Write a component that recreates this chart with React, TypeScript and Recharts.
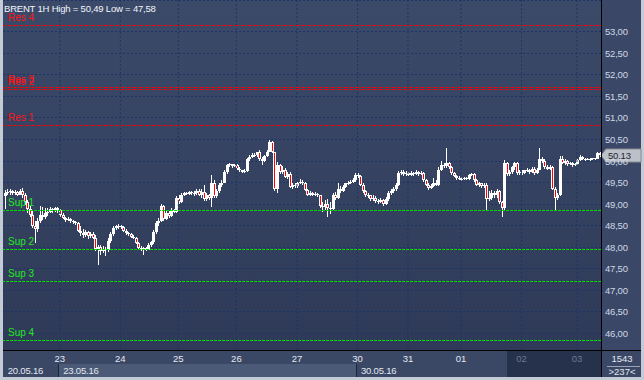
import React from 'react';
import { ComposedChart, Bar, XAxis, YAxis, CartesianGrid, ReferenceLine } from 'recharts';

// open, high, low, close
type Candle = [number, number, number, number];

const FONT = '"Liberation Sans", Arial, Helvetica, sans-serif';

const day2005: Candle[] = [
  [49.18, 49.32, 48.88, 49.25], [49.25, 49.34, 49.2, 49.28], [49.28, 49.35, 49.22, 49.3],
  [49.3, 49.33, 49.22, 49.26], [49.26, 49.32, 49.2, 49.27], [49.27, 49.3, 49.18, 49.22],
  [49.22, 49.36, 49.2, 49.3], [49.3, 49.38, 49.15, 49.22], [49.22, 49.26, 48.98, 49.05],
  [49.05, 49.1, 48.8, 48.88], [48.88, 48.95, 48.7, 48.75], [48.75, 48.85, 48.45, 48.5],
  [48.5, 48.6, 48.1, 48.42], [48.42, 48.68, 48.35, 48.6], [48.6, 48.95, 48.55, 48.75],
  [48.75, 48.92, 48.62, 48.7], [48.7, 48.9, 48.65, 48.78], [48.78, 48.9, 48.72, 48.82],
  [48.82, 48.92, 48.78, 48.88], [48.88, 48.9, 48.8, 48.86], [48.86, 48.94, 48.82, 48.9],
  [48.9, 48.93, 48.8, 48.85],
];

const day2305: Candle[] = [
  [48.85, 48.88, 48.7, 48.74], [48.74, 48.78, 48.64, 48.68], [48.68, 48.7, 48.58, 48.62],
  [48.62, 48.7, 48.6, 48.66], [48.66, 48.68, 48.56, 48.6], [48.6, 48.62, 48.54, 48.58],
  [48.58, 48.6, 48.52, 48.55], [48.55, 48.58, 48.35, 48.38], [48.38, 48.5, 48.25, 48.32],
  [48.32, 48.42, 48.22, 48.28], [48.28, 48.4, 48.24, 48.35], [48.35, 48.38, 48.18, 48.25],
  [48.25, 48.36, 48.2, 48.3], [48.3, 48.34, 48.18, 48.22], [48.22, 48.28, 47.9, 47.95],
  [47.95, 48.05, 47.58, 48.0], [48.0, 48.05, 47.82, 47.9], [47.9, 48.02, 47.85, 47.95],
  [47.95, 48.0, 47.8, 47.92], [47.92, 48.2, 47.88, 48.15], [48.15, 48.35, 48.1, 48.3],
  [48.3, 48.5, 48.25, 48.45], [48.45, 48.52, 48.4, 48.48], [48.48, 48.54, 48.42, 48.5],
];

const day2405: Candle[] = [
  [48.5, 48.52, 48.42, 48.46], [48.46, 48.5, 48.34, 48.38], [48.38, 48.42, 48.28, 48.32],
  [48.32, 48.36, 48.26, 48.3], [48.3, 48.32, 48.2, 48.24], [48.24, 48.28, 48.18, 48.22],
  [48.22, 48.24, 48.06, 48.1], [48.1, 48.12, 47.94, 47.98], [47.98, 48.02, 47.9, 47.95],
  [47.95, 48.0, 47.82, 47.97], [47.97, 48.0, 47.9, 47.94], [47.94, 48.1, 47.92, 48.05],
  [48.05, 48.15, 48.0, 48.12], [48.12, 48.4, 48.08, 48.35], [48.35, 48.6, 48.3, 48.55],
  [48.55, 48.68, 48.5, 48.6], [48.6, 49.0, 48.58, 48.95], [48.95, 48.98, 48.6, 48.65],
  [48.65, 48.85, 48.62, 48.8], [48.8, 48.84, 48.68, 48.72], [48.72, 48.9, 48.7, 48.85],
  [48.85, 48.88, 48.78, 48.82], [48.82, 49.18, 48.8, 49.15],
];

const day2505: Candle[] = [
  [49.15, 49.2, 49.0, 49.05], [49.05, 49.25, 49.02, 49.22], [49.22, 49.28, 49.18, 49.25],
  [49.25, 49.28, 49.2, 49.24], [49.24, 49.3, 49.2, 49.27], [49.27, 49.3, 49.22, 49.25],
  [49.25, 49.3, 49.18, 49.25], [49.25, 49.35, 49.2, 49.3], [49.3, 49.34, 49.18, 49.22],
  [49.22, 49.34, 49.15, 49.28], [49.28, 49.44, 49.08, 49.12], [49.12, 49.25, 49.08, 49.2],
  [49.2, 49.24, 49.1, 49.15], [49.15, 49.67, 48.93, 49.5], [49.5, 49.55, 49.15, 49.18],
  [49.18, 49.35, 49.15, 49.3], [49.3, 49.5, 49.25, 49.45], [49.45, 49.55, 49.4, 49.5],
  [49.5, 49.8, 49.48, 49.75], [49.75, 49.94, 49.7, 49.9], [49.9, 49.95, 49.85, 49.92],
  [49.92, 49.94, 49.84, 49.88], [49.88, 49.93, 49.85, 49.9],
];

const day2605: Candle[] = [
  [49.9, 49.92, 49.8, 49.82], [49.82, 49.85, 49.74, 49.78], [49.78, 49.8, 49.72, 49.75],
  [49.75, 49.82, 49.72, 49.77], [49.77, 50.08, 49.75, 50.05], [50.05, 50.14, 50.0, 50.1],
  [50.1, 50.18, 50.06, 50.15], [50.15, 50.18, 50.1, 50.14], [50.14, 50.22, 50.1, 50.2],
  [50.2, 50.26, 50.0, 50.05], [50.05, 50.1, 49.9, 50.0], [50.0, 50.15, 49.98, 50.12],
  [50.12, 50.26, 50.1, 50.22], [50.22, 50.49, 50.2, 50.45], [50.45, 50.47, 50.18, 50.2],
  [50.2, 50.22, 49.3, 49.35], [49.35, 49.98, 49.26, 49.9], [49.9, 49.94, 49.7, 49.75],
  [49.75, 49.88, 49.7, 49.8], [49.8, 49.84, 49.6, 49.62], [49.62, 49.75, 49.58, 49.7],
  [49.7, 49.74, 49.38, 49.4], [49.4, 49.5, 49.36, 49.45], [49.45, 49.48, 49.38, 49.42],
];

const day2705: Candle[] = [
  [49.42, 49.52, 49.38, 49.5], [49.5, 49.58, 49.46, 49.52], [49.52, 49.55, 49.45, 49.5],
  [49.5, 49.52, 49.3, 49.33], [49.33, 49.36, 49.18, 49.22], [49.22, 49.3, 49.18, 49.25],
  [49.25, 49.28, 49.18, 49.22], [49.22, 49.28, 49.18, 49.24], [49.24, 49.26, 49.16, 49.2],
  [49.2, 49.22, 48.9, 48.95], [48.95, 49.05, 48.82, 48.92], [48.92, 49.1, 48.85, 49.0],
  [49.0, 49.12, 48.7, 48.9], [48.9, 49.05, 48.76, 48.88], [48.88, 49.25, 48.85, 49.2],
  [49.2, 49.28, 49.1, 49.15], [49.15, 49.48, 49.12, 49.35], [49.35, 49.42, 49.25, 49.3],
  [49.3, 49.45, 49.28, 49.4], [49.4, 49.5, 49.38, 49.48], [49.48, 49.53, 49.44, 49.5],
  [49.5, 49.55, 49.46, 49.52], [49.52, 49.6, 49.48, 49.55], [49.55, 49.72, 49.52, 49.68],
];

const day3005: Candle[] = [
  [49.68, 49.72, 49.6, 49.65], [49.65, 49.67, 49.42, 49.45], [49.45, 49.48, 49.26, 49.3],
  [49.3, 49.32, 49.16, 49.22], [49.22, 49.26, 49.15, 49.2], [49.2, 49.22, 49.08, 49.12],
  [49.12, 49.2, 49.08, 49.15], [49.15, 49.18, 49.02, 49.08], [49.08, 49.12, 49.0, 49.05],
  [49.05, 49.14, 49.02, 49.1], [49.1, 49.12, 48.96, 49.0], [49.0, 49.16, 48.98, 49.12],
  [49.12, 49.3, 49.08, 49.25], [49.25, 49.35, 49.2, 49.3], [49.3, 49.4, 49.26, 49.35],
  [49.35, 49.5, 49.3, 49.45], [49.45, 49.76, 49.42, 49.72], [49.72, 49.8, 49.68, 49.75],
  [49.75, 49.78, 49.66, 49.7], [49.7, 49.76, 49.66, 49.72],
];

const day3105: Candle[] = [
  [49.72, 49.75, 49.64, 49.68], [49.68, 49.76, 49.66, 49.72], [49.72, 49.74, 49.66, 49.7],
  [49.7, 49.78, 49.68, 49.74], [49.74, 49.76, 49.66, 49.7], [49.7, 49.76, 49.68, 49.72],
  [49.72, 49.74, 49.52, 49.55], [49.55, 49.58, 49.42, 49.45], [49.45, 49.5, 49.32, 49.38],
  [49.38, 49.46, 49.34, 49.42], [49.42, 49.6, 49.4, 49.5], [49.5, 49.55, 49.42, 49.45],
  [49.45, 49.85, 49.42, 49.8], [49.8, 50.0, 49.76, 49.9], [49.9, 49.95, 49.84, 49.88],
  [49.88, 50.3, 49.84, 49.95], [49.95, 49.98, 49.82, 49.85], [49.85, 49.88, 49.68, 49.72],
  [49.72, 49.75, 49.62, 49.65], [49.65, 49.68, 49.56, 49.6], [49.6, 49.64, 49.55, 49.58],
];

const day0106: Candle[] = [
  [49.58, 49.62, 49.54, 49.57], [49.57, 49.63, 49.55, 49.6], [49.6, 49.62, 49.55, 49.58],
  [49.58, 49.7, 49.56, 49.68], [49.68, 49.73, 49.65, 49.7], [49.7, 49.72, 49.52, 49.55],
  [49.55, 49.58, 49.42, 49.45], [49.45, 49.52, 49.4, 49.48], [49.48, 49.5, 49.38, 49.42],
  [49.42, 49.48, 49.38, 49.45], [49.45, 49.48, 48.86, 49.12], [49.12, 49.3, 49.08, 49.15],
  [49.15, 49.33, 49.1, 49.25], [49.25, 49.3, 49.15, 49.2], [49.2, 49.34, 49.15, 49.3],
  [49.3, 49.32, 49.0, 49.05], [49.05, 49.08, 48.7, 48.9], [48.9, 50.02, 48.86, 49.95],
  [49.95, 49.98, 49.66, 49.7], [49.7, 49.8, 49.65, 49.75], [49.75, 49.88, 49.7, 49.85],
  [49.85, 49.98, 49.8, 49.95], [49.95, 49.97, 49.68, 49.72], [49.72, 49.78, 49.68, 49.75],
];

const day0206: Candle[] = [
  [49.75, 49.78, 49.68, 49.72], [49.72, 49.8, 49.7, 49.78], [49.78, 49.84, 49.74, 49.8],
  [49.8, 49.82, 49.7, 49.75], [49.75, 49.86, 49.72, 49.82], [49.82, 49.85, 49.68, 49.72],
  [49.72, 49.83, 49.7, 49.8], [49.8, 50.3, 49.78, 50.05], [50.05, 50.1, 49.95, 50.0],
  [50.0, 50.04, 49.82, 49.85], [49.85, 49.9, 49.78, 49.82], [49.82, 49.9, 49.78, 49.86],
  [49.86, 49.88, 49.32, 49.35], [49.35, 49.4, 48.86, 49.15], [49.15, 49.25, 49.1, 49.2],
  [49.2, 50.12, 49.18, 50.05], [50.05, 50.12, 49.92, 49.95], [49.95, 50.05, 49.9, 50.0],
  [50.0, 50.02, 49.88, 49.92], [49.92, 49.98, 49.9, 49.95], [49.95, 49.97, 49.86, 49.9],
  [49.9, 49.96, 49.88, 49.93],
];

const day0306: Candle[] = [
  [49.93, 50.05, 49.9, 50.02], [50.02, 50.15, 50.0, 50.1], [50.1, 50.12, 50.02, 50.05],
  [50.05, 50.08, 50.0, 50.03], [50.03, 50.08, 50.02, 50.05], [50.05, 50.07, 50.0, 50.04],
  [50.04, 50.08, 50.02, 50.06], [50.06, 50.08, 50.02, 50.05], [50.05, 50.22, 50.04, 50.18],
  [50.18, 50.2, 50.1, 50.13],
];

const days = [
  { tick: '', week: '20.05.16', dim: false, candles: day2005 },
  { tick: '23', week: '23.05.16', dim: false, candles: day2305 },
  { tick: '24', week: '', dim: false, candles: day2405 },
  { tick: '25', week: '', dim: false, candles: day2505 },
  { tick: '26', week: '', dim: false, candles: day2605 },
  { tick: '27', week: '', dim: false, candles: day2705 },
  { tick: '30', week: '30.05.16', dim: false, candles: day3005 },
  { tick: '31', week: '', dim: false, candles: day3105 },
  { tick: '01', week: '', dim: false, candles: day0106 },
  { tick: '02', week: '', dim: true, candles: day0206 },
  { tick: '03', week: '', dim: true, candles: day0306 },
];

const priceTicks = [46, 46.5, 47, 47.5, 48, 48.5, 49, 49.5, 50, 50.5, 51, 51.5, 52, 52.5, 53];

const resistance = [
  { name: 'Res 4', value: 53.151 },
  { name: 'Res 3', value: 51.709 },
  { name: 'Res 2', value: 51.663 },
  { name: 'Res 1', value: 50.826 },
];

const support = [
  { name: 'Sup 1', value: 48.849 },
  { name: 'Sup 2', value: 47.942 },
  { name: 'Sup 3', value: 47.198 },
  { name: 'Sup 4', value: 45.826 },
];

const title = 'BRENT 1H High = 50,49 Low = 47,58';
const barCount = '1543';
const visibleBars = '>237<';

const data = days.flatMap((d, di) =>
  d.candles.map((c, i) => ({
    key: `${di}-${i}`,
    tick: i === 0 ? d.tick : '',
    week: i === 0 ? d.week : '',
    dim: d.dim,
    open: c[0],
    high: c[1],
    low: c[2],
    close: c[3],
    range: [c[2], c[1]],
  }))
);

const dayStarts = data.filter((d) => d.tick !== '');
const last = data[data.length - 1];

const fmt = (v: number) => v.toFixed(2).replace('.', ',');

const CandleShape = (props: any) => {
  const { x, y, width, height, payload } = props;
  if (!payload || height == null) return null;
  const { open, high, low, close } = payload;
  const top0 = Math.min(y, y + height);
  const h = Math.abs(height);
  const k = h / (high - low || 1);
  const yOf = (v: number) => top0 + (high - v) * k;
  const cx = Math.round(x + width / 2);
  const top = Math.round(yOf(Math.max(open, close)));
  const bot = Math.round(yOf(Math.min(open, close)));
  const bh = Math.max(1, bot - top);
  const down = close < open;
  return (
    <g>
      <line x1={cx + 0.5} x2={cx + 0.5} y1={Math.round(top0)} y2={Math.round(top0 + h)} stroke="#ffffff" />
      <rect x={cx - 1} y={top} width={3} height={bh} fill="#ffffff" />
      {down && bh > 2 && <rect x={cx} y={top + 1} width={1} height={bh - 2} fill="#ff0000" />}
    </g>
  );
};

const DayTick = (props: any) => {
  const { x, y, payload, index } = props;
  const d = data[index] || data.find((e) => e.key === payload.value);
  if (!d || (!d.tick && !d.week)) return null;
  return (
    <g>
      {d.tick && (
        <text x={x} y={y + 12} textAnchor="middle" fill={d.dim ? '#6b7893' : '#e4e9f1'} fontSize={9.5} fontFamily={FONT}>
          {d.tick}
        </text>
      )}
      {d.week && (
        <text x={x + 3.5} y={y + 24} fill="#e4e9f1" fontSize={9.5} fontFamily={FONT} letterSpacing={-0.2}>
          {d.week}
        </text>
      )}
    </g>
  );
};

const PriceTick = (props: any) => {
  const { x, y, payload } = props;
  return (
    <text x={x + 4} y={y + 3.5} fill="#cfd8e6" fontSize={9.5} fontFamily={FONT} letterSpacing={-0.2}>
      {fmt(payload.value)}
    </text>
  );
};

const levelLabel = (name: string, color: string) => (props: any) => {
  const vb = props.viewBox || {};
  return (
    <text x={(vb.x || 0) + 5} y={(vb.y || 0) - 4.5} fill={color} fontSize={10} fontFamily={FONT}>
      {name}
    </text>
  );
};

const PriceTag = (props: any) => {
  const vb = props.viewBox || {};
  const x = (vb.x || 0) + (vb.width || 0);
  const y = Math.round(vb.y || 0) + 0.5;
  return (
    <g>
      <polygon
        points={`${x},${y} ${x + 5},${y - 6.5} ${x + 40},${y - 6.5} ${x + 40},${y + 6.5} ${x + 5},${y + 6.5}`}
        fill="#bcc1c9"
        stroke="#868c96"
      />
      <text x={x + 7} y={y + 3.5} fill="#1f2633" fontSize={9.5} fontFamily={FONT} letterSpacing={-0.2}>
        {fmt(last.close)}
      </text>
    </g>
  );
};

export default function App() {
  return (
    <div style={{ position: 'fixed', left: 0, top: 0, width: 644, height: 380, background: '#c3cbd7', overflow: 'hidden' }}>
      <div style={{ position: 'absolute', left: 3, top: 0, width: 598, height: 350, background: 'linear-gradient(#3c4a6a, #2e3a57)' }} />
      <div style={{ position: 'absolute', left: 601, top: 0, width: 40, height: 350, background: '#3a4767' }} />
      <div style={{ position: 'absolute', left: 3, top: 350, width: 638, height: 27, background: '#3a4765' }} />
      <div style={{ position: 'absolute', left: 59, top: 364, width: 297, height: 13, background: '#4b5a77' }} />
      <div style={{ position: 'absolute', left: 507, top: 351, width: 94, height: 26, background: '#26314b' }} />
      <div style={{ position: 'absolute', left: 0, top: 0 }}>
        <ComposedChart
          width={644}
          height={380}
          data={data}
          margin={{ top: 0, right: 3, bottom: 3, left: 3 }}
          barCategoryGap={0}
          barGap={0}
        >
          <CartesianGrid vertical={false} stroke="#1d3566" strokeDasharray="2 2" shapeRendering="crispEdges" />
          <XAxis
            dataKey="key"
            interval={0}
            height={27}
            axisLine={false}
            tickLine={false}
            tickSize={0}
            tickMargin={0}
            tick={<DayTick />}
          />
          <YAxis
            orientation="right"
            width={40}
            domain={[45.605, 53.744]}
            allowDataOverflow
            ticks={priceTicks}
            interval={0}
            axisLine={false}
            tickLine={false}
            tickSize={0}
            tickMargin={0}
            tick={<PriceTick />}
          />
          {dayStarts.map((d) => (
            <ReferenceLine key={d.key} x={d.key} stroke="#1d3566" strokeDasharray="2 2" />
          ))}
          <Bar dataKey="range" shape={<CandleShape />} isAnimationActive={false} />
          {resistance.map((r) => (
            <ReferenceLine key={r.name} y={r.value} stroke="#ff0000" strokeDasharray="2 1" label={levelLabel(r.name, '#ff1414')} />
          ))}
          {support.map((s) => (
            <ReferenceLine key={s.name} y={s.value} stroke="#00e000" strokeDasharray="3 1" label={levelLabel(s.name, '#22e822')} />
          ))}
          <ReferenceLine y={last.close} stroke="none" ifOverflow="visible" label={PriceTag} />
        </ComposedChart>
      </div>
      <svg width={644} height={380} style={{ position: 'absolute', left: 0, top: 0, pointerEvents: 'none' }}>
        <line x1={601.5} x2={601.5} y1={0} y2={377} stroke="#000" />
        <line x1={3} x2={641} y1={350.5} y2={350.5} stroke="#000" />
        <line x1={58.5} x2={58.5} y1={364} y2={377} stroke="#1c2438" />
        <line x1={356.5} x2={356.5} y1={364} y2={377} stroke="#1c2438" />
        <text x={4} y={11.5} fill="#f2f5fa" fontSize={9.5} fontFamily={FONT} letterSpacing={-0.2}>
          {title}
        </text>
        <text x={622} y={362} textAnchor="middle" fill="#e4e9f1" fontSize={9.5} fontFamily={FONT}>
          {barCount}
        </text>
        <line x1={607} x2={640} y1={366.5} y2={366.5} stroke="#9aa4b6" />
        <text x={622} y={375} textAnchor="middle" fill="#e4e9f1" fontSize={9.5} fontFamily={FONT}>
          {visibleBars}
        </text>
      </svg>
    </div>
  );
}
